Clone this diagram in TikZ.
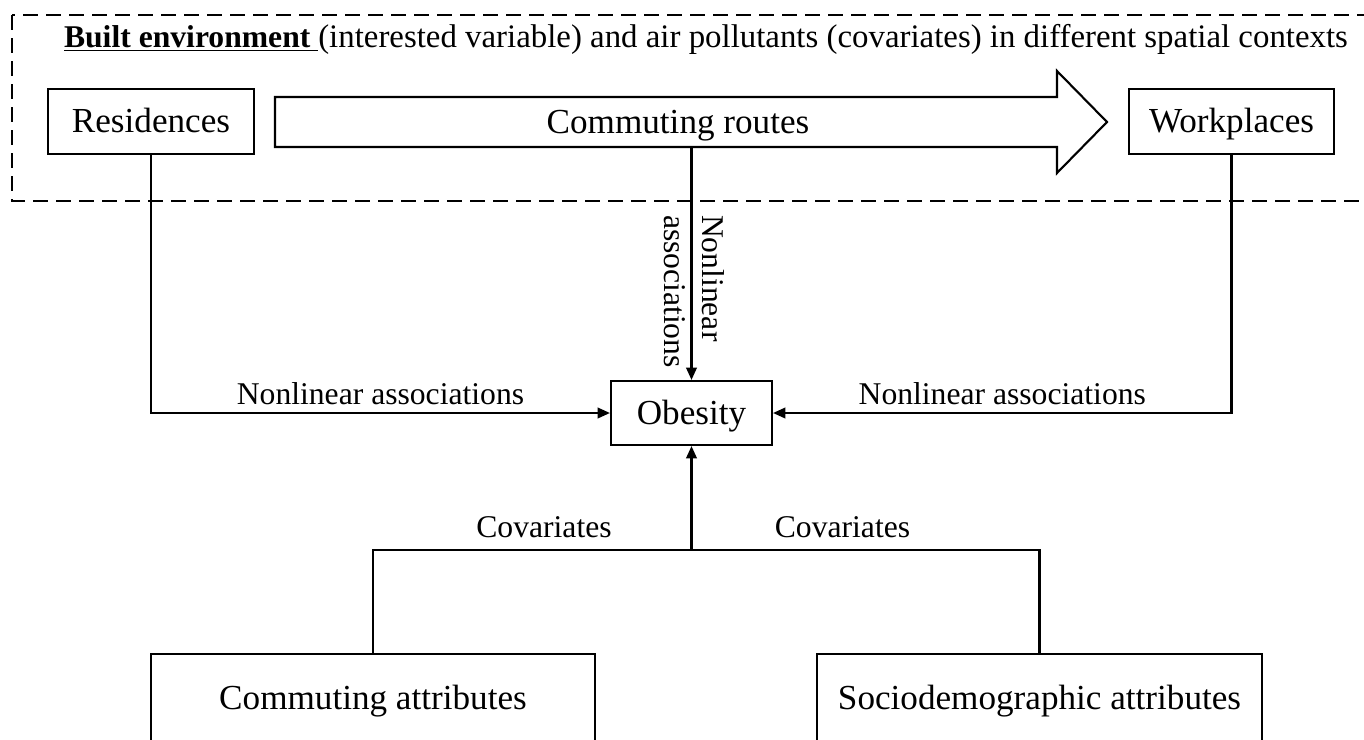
\documentclass[tikz,border=0pt]{standalone}
\usepackage{fontspec}
\setmainfont{Liberation Serif}
\usetikzlibrary{arrows.meta}

\begin{document}
\begin{tikzpicture}[line width=1.2pt,
    box/.style={draw, rectangle, inner sep=0pt, text height=13pt, text depth=0pt, font=\fontsize{20}{24}\selectfont},
    lbl/.style={inner sep=0pt, font=\fontsize{18}{21.6}\selectfont},
    conn/.style={-{Triangle[length=7pt, width=6pt]}}]
    \useasboundingbox (0,0) rectangle (27.28,-14.78);
    % spatial contexts
    \draw[dash pattern=on 0.3cm off 0.16cm] (0.24,-0.30) rectangle (27.6,-4.02);
    \node (title) [lbl, anchor=base west] at (1.26,-0.95) {\underline{\textbf{Built environment}\ }\fontsize{18.7}{22}\selectfont(interested variable) and air pollutants (covariates) in different spatial contexts};
    \node (res) [box, minimum width=4.12cm, minimum height=1.3cm] at (3.02,-2.43) {Residences};
    \node (work) [box, minimum width=4.1cm, minimum height=1.3cm] at (24.63,-2.43) {Workplaces};
    \draw (5.5,-1.94) -- (21.14,-1.94) -- (21.14,-1.42) -- (22.14,-2.44) -- (21.14,-3.46) -- (21.14,-2.94) -- (5.5,-2.94) -- cycle;
    \node (route) [box, draw=none] at (13.56,-2.44) {Commuting routes};
    \coordinate (routebot) at (13.83,-2.94);
    % outcome and covariates
    \node (obes) [box, minimum width=3.22cm, minimum height=1.28cm] at (13.83,-8.26) {Obesity};
    \node (commattr) [box, minimum width=8.88cm, minimum height=1.78cm] at (7.46,-13.97) {Commuting attributes};
    \node (socattr) [box, minimum width=8.9cm, minimum height=1.78cm] at (20.79,-13.97) {Sociodemographic attributes};
    \coordinate (join) at (13.83,-11.0);
    \draw[conn] (res.south) |- (obes.west) node [lbl, pos=0.75, above=0.14cm] {Nonlinear associations};
    \draw[conn] (work.south) |- (obes.east) node [lbl, pos=0.75, above=0.14cm] {Nonlinear associations};
    \draw[conn] (routebot) -- (obes.north);
    \node [lbl, rotate=-90, anchor=west, align=left] at (13.88,-4.28) {Nonlinear\\associations};
    \draw (commattr.north) |- (socattr.north |- join) -- (socattr.north);
    \draw[conn] (join) -- (obes.south);
    \node [lbl, anchor=base] at (10.88,-10.74) {Covariates};
    \node [lbl, anchor=base] at (16.85,-10.74) {Covariates};
\end{tikzpicture}
\end{document}
